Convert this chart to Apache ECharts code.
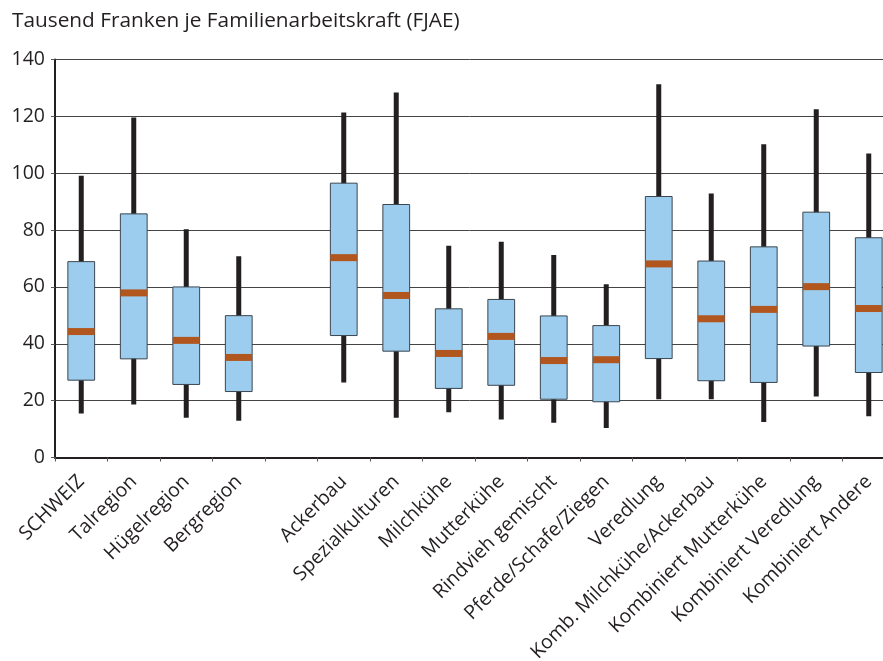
<!DOCTYPE html>
<html>
<head>
<meta charset="utf-8">
<script src="https://cdn.jsdelivr.net/npm/echarts@6/dist/echarts.min.js"></script>
<style>
html,body{margin:0;padding:0;background:#fff;}
#chart{width:883px;height:661px;}
</style>
</head>
<body>
<div id="chart"></div>
<script>
var categories = ['SCHWEIZ','Talregion','Hügelregion','Bergregion','','Ackerbau','Spezialkulturen','Milchkühe','Mutterkühe','Rindvieh gemischt','Pferde/Schafe/Ziegen','Veredlung','Komb. Milchkühe/Ackerbau','Kombiniert Mutterkühe','Kombiniert Veredlung','Kombiniert Andere'];
var whiskerLow  = [15.5, 18.6, 14.0, 12.9, null, 26.4, 14.0, 15.9, 13.4, 12.2, 10.4, 20.5, 20.5, 12.5, 21.5, 14.5];
var boxLow      = [27.2, 34.7, 25.7, 23.2, null, 42.9, 37.4, 24.3, 25.4, 20.5, 19.6, 34.8, 27.0, 26.4, 39.2, 29.9];
var median      = [44.3, 57.9, 41.2, 35.2, null, 70.3, 57.0, 36.6, 42.6, 34.1, 34.4, 68.1, 48.8, 52.1, 60.1, 52.4];
var boxHigh     = [68.9, 85.7, 60.0, 49.9, null, 96.5, 89.0, 52.3, 55.6, 49.8, 46.4, 91.8, 69.1, 74.1, 86.3, 77.3];
var whiskerHigh = [99.1,119.6, 80.3, 70.8, null,121.4,128.4, 74.5, 75.9, 71.2, 60.9,131.3, 92.9,110.2,122.5,106.9];
var yTicks = [0, 20, 40, 60, 80, 100, 120, 140];

var data = [];
for (var i = 0; i < categories.length; i++) {
  if (median[i] == null) continue;
  data.push([i, whiskerLow[i], boxLow[i], median[i], boxHigh[i], whiskerHigh[i]]);
}

var chart = echarts.init(document.getElementById('chart'));
var font = '"Open Sans", "Noto Sans", sans-serif';
chart.setOption({
  animation: false,
  title: {
    text: 'Tausend Franken je Familienarbeitskraft (FJAE)',
    left: 7, top: 6,
    textStyle: {fontFamily: font, fontSize: 20.8, fontWeight: 'normal', color: '#231f20'}
  },
  grid: {left: 55, top: 59.5, width: 840, bottom: 203.5, containLabel: false, outerBoundsMode: 'none'},
  xAxis: {
    type: 'category',
    data: categories,
    boundaryGap: true,
    axisLine: {lineStyle: {color: '#231f20', width: 2}},
    axisTick: {show: true, length: 4, lineStyle: {color: '#555', width: 1}},
    axisLabel: {
      interval: 0, rotate: 45, margin: 21,
      fontFamily: font, fontSize: 19.5, color: '#231f20'
    },
    splitLine: {show: false}
  },
  yAxis: {
    type: 'value',
    min: yTicks[0], max: yTicks[yTicks.length - 1], interval: 20,
    axisLine: {show: true, lineStyle: {color: '#231f20', width: 2}},
    axisTick: {show: true, length: 4, lineStyle: {color: '#555', width: 1}},
    axisLabel: {fontFamily: font, fontSize: 19.5, color: '#231f20', margin: 10},
    splitLine: {show: true, lineStyle: {color: '#444', width: 1}}
  },
  series: [{
    type: 'custom',
    data: data,
    encode: {x: 0, y: [1, 2, 3, 4, 5]},
    renderItem: function (params, api) {
      var x = api.value(0);
      var pLow = api.coord([x, api.value(1)]);
      var pBL = api.coord([x, api.value(2)]);
      var pMed = api.coord([x, api.value(3)]);
      var pBH = api.coord([x, api.value(4)]);
      var pHigh = api.coord([x, api.value(5)]);
      var bw = api.size([1, 0])[0] * 0.51;
      var cx = pMed[0];
      return {
        type: 'group',
        children: [
          {type: 'line', shape: {x1: cx, y1: pLow[1], x2: cx, y2: pHigh[1]},
           style: {stroke: '#231f20', lineWidth: 5}},
          {type: 'rect', shape: {x: cx - bw / 2, y: pBH[1], width: bw, height: pBL[1] - pBH[1]},
           style: {fill: '#9dcdee', stroke: '#3c4650', lineWidth: 1}},
          {type: 'rect', shape: {x: cx - bw / 2, y: pMed[1] - 3.5, width: bw, height: 7},
           style: {fill: '#b0561e'}}
        ]
      };
    }
  }]
});
</script>
</body>
</html>
